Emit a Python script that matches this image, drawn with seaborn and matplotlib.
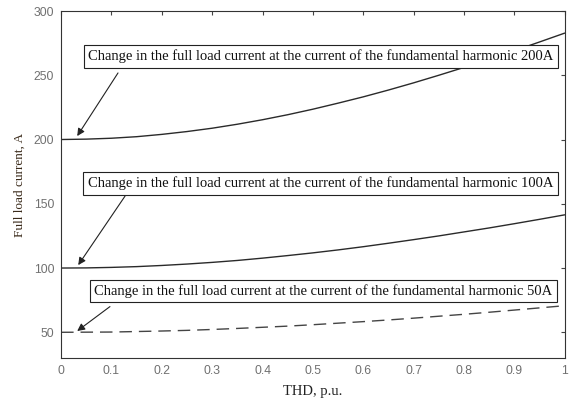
import numpy as np
import pandas as pd
import matplotlib
matplotlib.use('Agg')
import matplotlib.pyplot as plt
import seaborn as sns

# THD values, p.u.
thd = [0.0, 0.05, 0.1, 0.15, 0.2, 0.25, 0.3, 0.35, 0.4, 0.45, 0.5,
       0.55, 0.6, 0.65, 0.7, 0.75, 0.8, 0.85, 0.9, 0.95, 1.0]

# full load current, A
i_200 = [200, 200.3, 201, 202.2, 204, 206.2, 208.8, 211.9, 215.4, 219.3, 223.6,
         228.3, 233.2, 238.5, 244.1, 250, 256.1, 262.5, 269.1, 275.9, 282.8]
i_100 = [100, 100.1, 100.5, 101.1, 102, 103.1, 104.4, 105.9, 107.7, 109.7, 111.8,
         114.1, 116.6, 119.3, 122.1, 125, 128.1, 131.2, 134.5, 137.9, 141.4]
i_50 = [50, 50.1, 50.2, 50.6, 51, 51.5, 52.2, 53, 53.9, 54.8, 55.9,
        57.1, 58.3, 59.6, 61, 62.5, 64, 65.6, 67.3, 69, 70.7]

labels = ['Change in the full load current at the current of the fundamental harmonic 200A',
          'Change in the full load current at the current of the fundamental harmonic 100A',
          'Change in the full load current at the current of the fundamental harmonic 50A']

xticks = [0, 0.1, 0.2, 0.3, 0.4, 0.5, 0.6, 0.7, 0.8, 0.9, 1]
xtick_labels = ['0', '0.1', '0.2', '0.3', '0.4', '0.5', '0.6', '0.7', '0.8', '0.9', '1']
yticks = [50, 100, 150, 200, 250, 300]

sns.set_style('white')
plt.rcParams['font.family'] = ['Liberation Serif', 'DejaVu Serif']

fig = plt.figure(figsize=(5.71, 4.0), dpi=100)
ax = fig.add_axes([0.107, 0.105, 0.882, 0.8675])

df = pd.DataFrame({'thd': thd, 'i200': i_200, 'i100': i_100, 'i50': i_50})
sns.lineplot(data=df, x='thd', y='i200', ax=ax, color='#2a2a2a', lw=1.0)
sns.lineplot(data=df, x='thd', y='i100', ax=ax, color='#2a2a2a', lw=1.0)
sns.lineplot(data=df, x='thd', y='i50', ax=ax, color='#444444', lw=1.0)
ax.lines[-1].set_dashes([9, 5])

ax.set_xlim(0, 1)
ax.set_ylim(30, 300)
ax.set_xticks(xticks)
ax.set_xticklabels(xtick_labels)
ax.set_yticks(yticks)
ax.tick_params(direction='in', length=3, width=0.8, top=True, right=True,
               labelsize=8.8, labelcolor='#707070', color='#444444', pad=5)
for lab in ax.get_xticklabels() + ax.get_yticklabels():
    lab.set_family(['Liberation Sans', 'DejaVu Sans'])
for sp in ax.spines.values():
    sp.set_color('#333333')
    sp.set_linewidth(0.8)

ax.set_xlabel('THD, p.u.', fontsize=10.5, color='#222222', labelpad=6)
ax.set_ylabel('Full load current, A', fontsize=9.5, color='#3a2a1a', labelpad=6)

# annotation boxes
box_pos = [(0.516, 264.6), (0.515, 165.8), (0.521, 82.0)]
arrow_from = [(0.113, 251.8), (0.127, 156.0), (0.097, 70.0)]
arrow_to = [(0.032, 202.7), (0.034, 102.3), (0.032, 51.0)]

for txt, (bx, by), (fx, fy), (tx, ty) in zip(labels, box_pos, arrow_from, arrow_to):
    ax.text(bx, by, txt, ha='center', va='center', fontsize=10.5, color='#111111',
            zorder=5, bbox=dict(boxstyle='square,pad=0.3', fc='white', ec='#222222', lw=0.8))
    ax.annotate('', xy=(tx, ty), xytext=(fx, fy),
                arrowprops=dict(arrowstyle='-|>', color='#222222', lw=0.8,
                                mutation_scale=11, shrinkA=0, shrinkB=0), zorder=6)

fig.savefig('out.png', dpi=100)
